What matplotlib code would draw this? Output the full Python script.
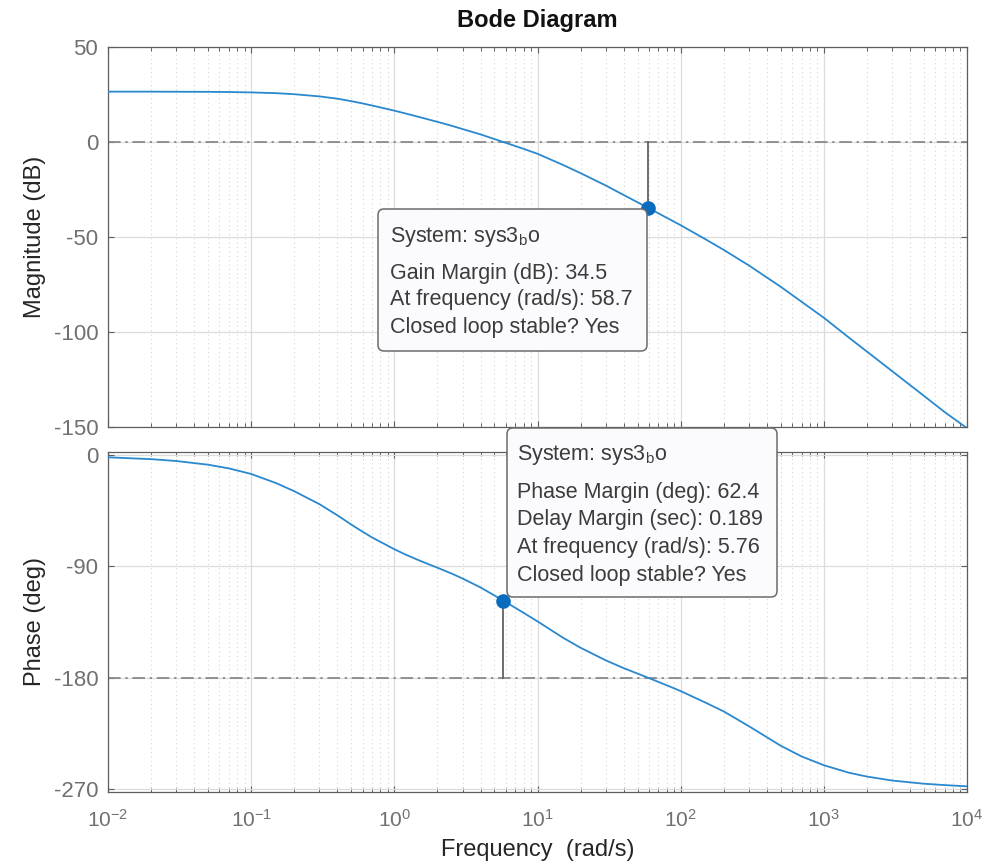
import numpy as np
import matplotlib
matplotlib.use("Agg")
import matplotlib.pyplot as plt
from matplotlib.patches import FancyBboxPatch
from matplotlib.transforms import IdentityTransform
from matplotlib.ticker import LogLocator, FixedLocator, NullFormatter

# ---------------- data ----------------
freq = [0.01, 0.02, 0.03, 0.05, 0.07, 0.1, 0.15, 0.2, 0.3, 0.4, 0.5, 0.6, 0.7, 1, 1.2,
        1.5, 2, 2.5, 3, 4, 5.76, 8, 10, 15, 20, 30, 40, 58.7, 80, 100, 150, 200, 300,
        500, 700, 1000, 1500, 2000, 3000, 5000, 7000, 10000]
mag_db = [26.5, 26.5, 26.45, 26.4, 26.3, 26.1, 25.7, 25.15, 24.0, 22.8, 21.5, 20.3,
          19.2, 16.5, 15.0, 13.1, 10.6, 8.6, 6.8, 4.0, 0.0, -3.6, -6.2, -12.0, -16.4,
          -22.9, -27.9, -34.5, -39.9, -43.8, -51.3, -56.8, -65.0, -76.2, -84.1, -92.5,
          -103.0, -110.3, -120.6, -133.6, -142.2, -150.6]
phase_deg = [-1.5, -3.0, -4.5, -7.5, -10.5, -15.0, -22.5, -29.0, -39.5, -48.5, -56.0,
             -61.8, -66.5, -76.0, -80.4, -85.2, -91.0, -95.6, -99.8, -107.0, -117.6,
             -127.6, -134.5, -147.6, -155.9, -166.1, -172.4, -180.0, -186.3, -191.0,
             -200.5, -207.5, -219.5, -235.3, -244.0, -251.1, -257.2, -260.3, -263.5,
             -266.1, -267.2, -268.2]

system_name = "sys3"
gm_freq, gm_db = 58.7, 34.5
pm_freq, pm_deg = 5.76, 62.4
delay_margin = 0.189

mag_ticks = [50, 0, -50, -100, -150]
phase_ticks = [0, -90, -180, -270]
x_decades = [1e-2, 1e-1, 1e0, 1e1, 1e2, 1e3, 1e4]

# ---------------- style ----------------
W, H = 994, 865
plt.rcParams['font.family'] = ['Liberation Sans', 'DejaVu Sans']
plt.rcParams['mathtext.fontset'] = 'custom'
plt.rcParams['mathtext.rm'] = 'Liberation Sans'
plt.rcParams['mathtext.it'] = 'Liberation Sans:italic'
plt.rcParams['mathtext.bf'] = 'Liberation Sans:bold'
plt.rcParams['axes.unicode_minus'] = False

line_c = '#2a88cf'
dot_c = '#0a6cbf'
tick_c = '#707070'
spine_c = '#5e5e5e'
ref_c = '#8a8a8a'
label_c = '#262626'

fig = plt.figure(figsize=(W / 100, H / 100), dpi=100)
ax1 = fig.add_axes([108 / W, 1 - 427 / H, 859 / W, 380 / H])
ax2 = fig.add_axes([108 / W, 1 - 792 / H, 859 / W, 340 / H])

dashdot = (0, (7, 2.6, 1.3, 2.6))

for ax in (ax1, ax2):
    ax.set_xscale('log')
    ax.set_xlim(1e-2, 1e4)
    ax.xaxis.set_major_locator(FixedLocator(x_decades))
    ax.xaxis.set_minor_locator(LogLocator(base=10, subs=np.arange(2, 10), numticks=20))
    ax.xaxis.set_minor_formatter(NullFormatter())
    ax.grid(True, which='major', axis='both', color='#dcdcdc', lw=0.9, ls='-', zorder=0)
    ax.grid(True, which='minor', axis='x', color='#d2d2d2', lw=0.75, ls=(0, (1, 3.2)), zorder=0)
    ax.tick_params(which='both', direction='in', top=True, right=True,
                   colors=spine_c, labelcolor=tick_c, labelsize=15)
    ax.tick_params(axis='y', labelsize=16, pad=7)
    ax.tick_params(which='major', length=4.5, width=0.8)
    ax.tick_params(which='minor', length=2.8, width=0.7)
    for s in ax.spines.values():
        s.set_color(spine_c)
        s.set_linewidth(0.9)
    ax.set_axisbelow(True)

# magnitude
ax1.set_ylim(-150, 50)
ax1.set_yticks(mag_ticks)
ax1.tick_params(axis='x', labelbottom=False)
ax1.axhline(0, color=ref_c, lw=1.3, ls=dashdot, zorder=2)
ax1.plot(freq, mag_db, color=line_c, lw=1.3, zorder=3)
ax1.plot([gm_freq, gm_freq], [0, -gm_db], color='#626262', lw=1.3, zorder=3)
ax1.plot([gm_freq], [-gm_db], 'o', color=dot_c, ms=9.5, zorder=5)
ax1.set_ylabel('Magnitude (dB)', fontsize=17, color=label_c, va='center')
ax1.yaxis.set_label_coords((35 - 108) / 859, 0.5)

# phase
ax2.set_ylim(-272.8, 2.8)
ax2.set_yticks(phase_ticks)
ax2.tick_params(axis='x', pad=12)
ax2.axhline(-180, color=ref_c, lw=1.3, ls=dashdot, zorder=2)
ax2.plot(freq, phase_deg, color=line_c, lw=1.3, zorder=3)
ax2.plot([pm_freq, pm_freq], [-180, -180 + pm_deg], color='#626262', lw=1.3, zorder=3)
ax2.plot([pm_freq], [-180 + pm_deg], 'o', color=dot_c, ms=9.5, zorder=5)
ax2.set_ylabel('Phase (deg)', fontsize=17, color=label_c, va='center')
ax2.yaxis.set_label_coords((35 - 108) / 859, 0.5)
ax2.set_xlabel('Frequency  (rad/s)', fontsize=17, color=label_c, va='center')
ax2.xaxis.set_label_coords(0.5, (792 - 850) / 340)

fig.text(537.5 / W, 1 - 20 / H, 'Bode Diagram', ha='center', va='center',
         fontsize=17, fontweight='bold', color='#111111')

# ---------------- data tips ----------------
def data_tip(x0, y0, x1, y1, tx, rows):
    box = FancyBboxPatch((x0, H - y1), x1 - x0, y1 - y0,
                         boxstyle='round,pad=0,rounding_size=6',
                         transform=IdentityTransform(), facecolor='#fbfbfd',
                         edgecolor='#6b6b6b', lw=1.1, zorder=20)
    fig.patches.append(box)
    for ty, s in rows:
        fig.text(tx / W, 1 - ty / H, s, ha='left', va='center', fontsize=15.5,
                 color='#3c3c3c', zorder=21)

sys_label = 'System: ' + system_name + r'$_\mathregular{b}$o'
data_tip(378, 209, 647, 351, 390, [
    (237, sys_label),
    (273, 'Gain Margin (dB): %.1f' % gm_db),
    (300, 'At frequency (rad/s): %.1f' % gm_freq),
    (327, 'Closed loop stable? Yes'),
])
data_tip(507, 428, 777, 597, 517, [
    (455, sys_label),
    (492, 'Phase Margin (deg): %.1f' % pm_deg),
    (520, 'Delay Margin (sec): %.3f' % delay_margin),
    (548, 'At frequency (rad/s): %.2f' % pm_freq),
    (576, 'Closed loop stable? Yes'),
])

fig.savefig('out.png', dpi=100)
